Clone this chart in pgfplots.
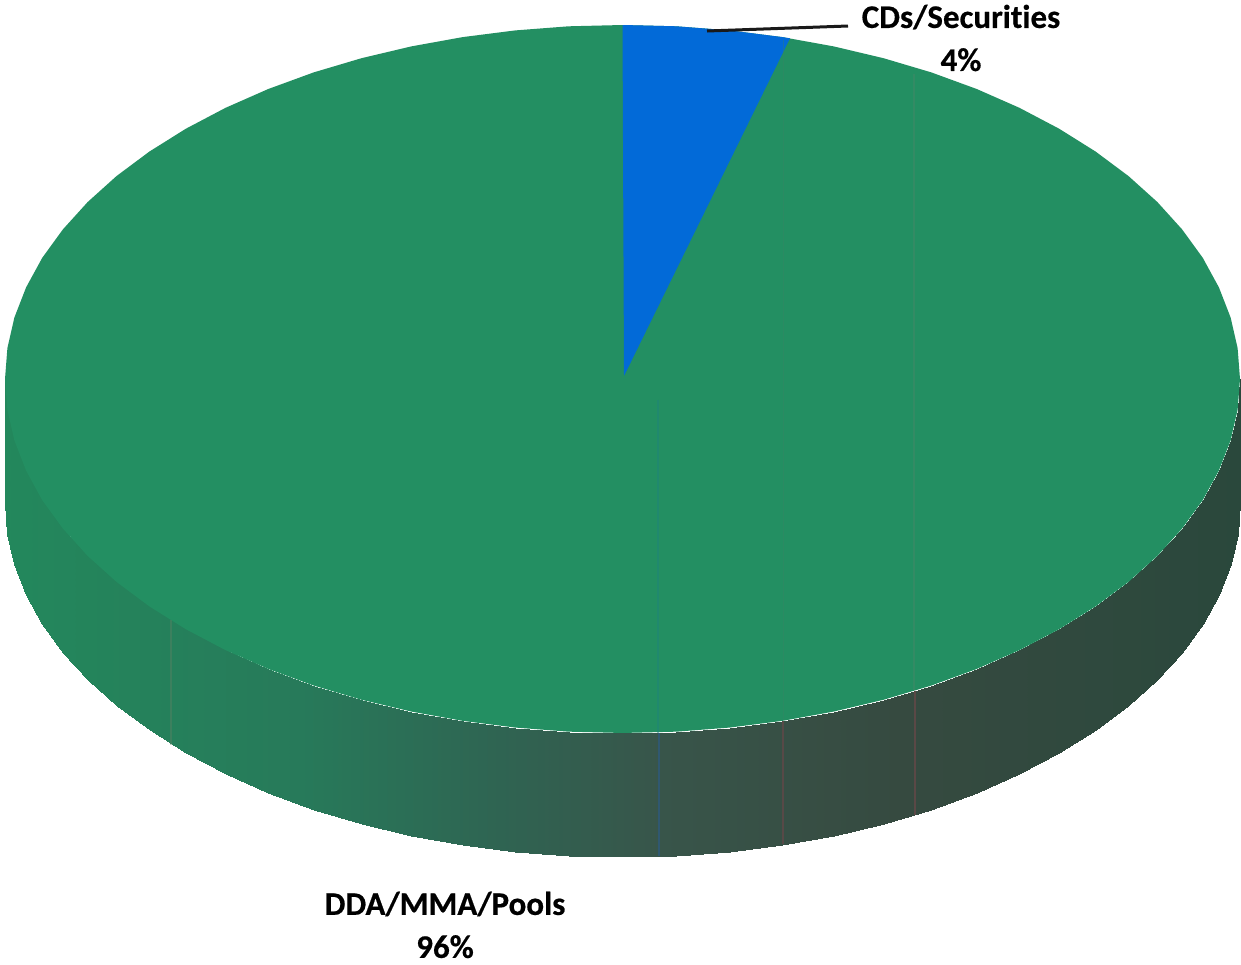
\documentclass[border=0pt]{standalone}
\usepackage{pgfplots}
\pgfplotsset{compat=1.18}
\usepackage{fontspec}
\setmainfont{Carlito}[Ligatures=NoCommon, BoldFeatures={FakeBold=0.5}]

\definecolor{topgreen}{RGB}{35,143,98}
\definecolor{sliceblue}{RGB}{2,106,216}

% Outer wall of the disc: upper edge, then the same edge dropped by the disc depth
\pgfplotstableread{
x y z
1240 379 0
1237.6 409.9 0
1230.6 440.5 0
1218.9 470.6 0
1202.8 500.1 0
1182.1 528.6 0
1157.3 556 0
1128.4 582 0
1095.5 606.5 0
1059.1 629.3 0
1019.4 650.2 0
976.7 669 0
931.3 685.6 0
883.5 699.8 0
833.7 711.6 0
782.3 720.9 0
729.7 727.6 0
676.3 731.7 0
622.5 733 0
568.7 731.7 0
515.3 727.6 0
462.7 720.9 0
411.3 711.6 0
361.5 699.8 0
313.7 685.6 0
268.3 669 0
225.6 650.2 0
185.9 629.3 0
149.5 606.5 0
116.6 582 0
87.7 556 0
62.9 528.6 0
42.2 500.1 0
26.1 470.6 0
14.4 440.5 0
7.4 409.9 0
5 379 0
1240 503 0
1237.6 533.9 0
1230.6 564.5 0
1218.9 594.6 0
1202.8 624.1 0
1182.1 652.6 0
1157.3 680 0
1128.4 706 0
1095.5 730.5 0
1059.1 753.3 0
1019.4 774.2 0
976.7 793 0
931.3 809.6 0
883.5 823.8 0
833.7 835.6 0
782.3 844.9 0
729.7 851.6 0
676.3 855.7 0
622.5 857 0
568.7 855.7 0
515.3 851.6 0
462.7 844.9 0
411.3 835.6 0
361.5 823.8 0
313.7 809.6 0
268.3 793 0
225.6 774.2 0
185.9 753.3 0
149.5 730.5 0
116.6 706 0
87.7 680 0
62.9 652.6 0
42.2 624.1 0
26.1 594.6 0
14.4 564.5 0
7.4 533.9 0
5 503 0
}\walltable

\begin{document}
\begin{tikzpicture}
\begin{axis}[
  scale only axis, width=1241pt, height=965pt,
  axis lines=none, clip=false,
  xmin=0, xmax=1241, ymin=0, ymax=965,
  y dir=reverse,
  view={0}{90},
  point meta min=0, point meta max=1240,
  colormap={wall}{
    rgb255(0pt)=(35,136,92);
    rgb255(300pt)=(39,122,90);
    rgb255(500pt)=(47,100,82);
    rgb255(660pt)=(56,85,74);
    rgb255(900pt)=(54,74,64);
    rgb255(1240pt)=(42,72,60)
  },
]
% keep the full canvas as the picture's extent
\path (axis cs:0,0) rectangle (axis cs:1241,965);

% wall, painted twice so the seams between its facets close up
\addplot3[surf, shader=interp, mesh/rows=2, point meta=x] table {\walltable};
\addplot3[surf, shader=interp, mesh/rows=2, point meta=x] table {\walltable};

% top face
\addplot3[fill=topgreen, draw=none] coordinates {
(622.5,25,0)(676.3,26.3,0)(729.7,30.4,0)(782.3,37.1,0)(833.7,46.4,0)(883.5,58.2,0)(931.3,72.4,0)(976.7,89,0)(1019.4,107.8,0)(1059.1,128.7,0)(1095.5,151.5,0)(1128.4,176,0)(1157.3,202,0)(1182.1,229.4,0)(1202.8,257.9,0)(1218.9,287.4,0)(1230.6,317.5,0)(1237.6,348.1,0)
(1240,379,0)(1237.6,409.9,0)(1230.6,440.5,0)(1218.9,470.6,0)(1202.8,500.1,0)(1182.1,528.6,0)(1157.3,556,0)(1128.4,582,0)(1095.5,606.5,0)(1059.1,629.3,0)(1019.4,650.2,0)(976.7,669,0)(931.3,685.6,0)(883.5,699.8,0)(833.7,711.6,0)(782.3,720.9,0)(729.7,727.6,0)(676.3,731.7,0)
(622.5,733,0)(568.7,731.7,0)(515.3,727.6,0)(462.7,720.9,0)(411.3,711.6,0)(361.5,699.8,0)(313.7,685.6,0)(268.3,669,0)(225.6,650.2,0)(185.9,629.3,0)(149.5,606.5,0)(116.6,582,0)(87.7,556,0)(62.9,528.6,0)(42.2,500.1,0)(26.1,470.6,0)(14.4,440.5,0)(7.4,409.9,0)
(5,379,0)(7.4,348.1,0)(14.4,317.5,0)(26.1,287.4,0)(42.2,257.9,0)(62.9,229.4,0)(87.7,202,0)(116.6,176,0)(149.5,151.5,0)(185.9,128.7,0)(225.6,107.8,0)(268.3,89,0)(313.7,72.4,0)(361.5,58.2,0)(411.3,46.4,0)(462.7,37.1,0)(515.3,30.4,0)(568.7,26.3,0)
(622.5,25,0)} -- cycle;

% CDs/Securities slice
\addplot3[fill=sliceblue, draw=none] coordinates {
(624,376,0)(622.5,25,0)(676.3,26.3,0)(729.7,30.4,0)(782.3,37.1,0)(790,38.3,0)} -- cycle;

% faint seams across the disc
\addplot3[draw={rgb,255:red,30;green,130;blue,125}, line width=1.2pt, opacity=.45] coordinates {(658,400,0)(658,733,0)};
\addplot3[draw={rgb,255:red,48;green,88;blue,112}, line width=1.5pt] coordinates {(659,733,0)(659,856,0)};
\addplot3[draw={rgb,255:red,90;green,130;blue,105}, line width=1.2pt, opacity=.3] coordinates {(914,74,0)(914,690,0)};
\addplot3[draw={rgb,255:red,60;green,130;blue,100}, line width=1pt, opacity=.35] coordinates {(783,40,0)(783,720,0)};
\addplot3[draw={rgb,255:red,100;green,72;blue,72}, line width=1.2pt, opacity=.8] coordinates {(915,691,0)(915,815,0)};
\addplot3[draw={rgb,255:red,95;green,72;blue,72}, line width=1.2pt, opacity=.8] coordinates {(783,721,0)(783,844,0)};
\addplot3[draw={rgb,255:red,95;green,130;blue,100}, line width=1.2pt, opacity=.4] coordinates {(171,620,0)(171,745,0)};

% leader line
\addplot3[draw=black!90, line width=3pt] coordinates {(707,31,0)(848,26,0)};

\node[font=\fontsize{33}{43}\selectfont\bfseries, align=center, text=black] at (axis cs:961,38) {CDs/Securities\\4\%};
\node[font=\fontsize{33}{43}\selectfont\bfseries, align=center, text=black] at (axis cs:445,925) {DDA/MMA/Pools\\96\%};
\end{axis}
\end{tikzpicture}
\end{document}
